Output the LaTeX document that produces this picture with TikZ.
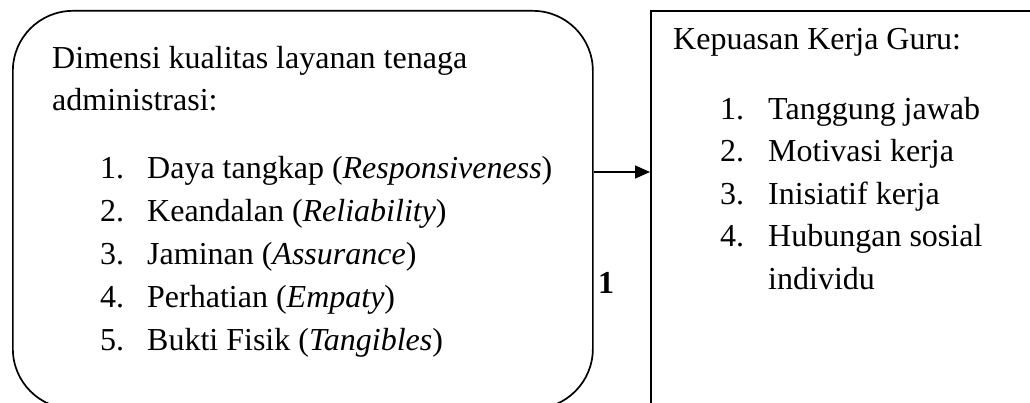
\documentclass[tikz,border=0pt]{standalone}
\usepackage{fontspec}
\setmainfont{Liberation Serif}
\usetikzlibrary{arrows.meta}
\begin{document}
\begin{tikzpicture}[x=1pt,y=-1pt,
  txt/.style={anchor=base west,inner sep=0pt,font=\fontsize{32}{42.5}\selectfont},
  boxline/.style={draw=black,line width=1.7pt},
  link/.style={line width=1.7pt,-{Triangle[length=15pt,width=13pt]}}]
\useasboundingbox (0,0) rectangle (1030,403);
\clip (0,0) rectangle (1030,403);
\node[boxline,rounded corners=60pt,anchor=north west,inner sep=0pt,minimum width=580pt,minimum height=398pt] (dim) at (12,10) {};
\node[boxline,anchor=north west,inner sep=0pt,minimum width=500pt,minimum height=500pt] (kep) at (650,10) {};
\coordinate (arr) at (620,172);
\draw[link] (dim.east |- arr) -- (kep.west |- arr);
% left texts
\node[txt] (l0) at (52,69) {Dimensi kualitas layanan tenaga};
\node[txt] (l1) at (52,111) {administrasi:};
\node[txt] (n1) at (100,179) {1.};
\node[txt] (i1) at (147,179) {Daya tangkap (\textit{Responsiveness})};
\node[txt] (n2) at (100,222) {2.};
\node[txt] (i2) at (147,222) {Keandalan (\textit{Reliability})};
\node[txt] (n3) at (100,265) {3.};
\node[txt] (i3) at (147,265) {Jaminan (\textit{Assurance})};
\node[txt] (n4) at (100,307) {4.};
\node[txt] (i4) at (147,307) {Perhatian (\textit{Empaty})};
\node[txt] (n5) at (100,350) {5.};
\node[txt] (i5) at (147,350) {Bukti Fisik (\textit{Tangibles})};
% label
\node[txt] (one) at (598,294) {\textbf{1}};
% right texts
\node[txt] (r0) at (673,50) {Kepuasan Kerja Guru:};
\node[txt] (m1) at (720,120) {1.};
\node[txt] (j1) at (768,120) {Tanggung jawab};
\node[txt] (m2) at (720,162) {2.};
\node[txt] (j2) at (768,162) {Motivasi kerja};
\node[txt] (m3) at (720,205) {3.};
\node[txt] (j3) at (768,205) {Inisiatif kerja};
\node[txt] (m4) at (720,247) {4.};
\node[txt] (j4) at (768,247) {Hubungan sosial};
\node[txt] (j5) at (768,289) {individu};
\end{tikzpicture}
\end{document}
